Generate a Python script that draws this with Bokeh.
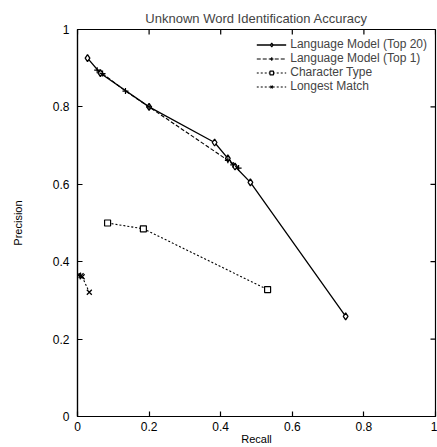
import math
from bokeh.plotting import figure
from bokeh.models import FixedTicker, Range1d, Legend, LegendItem
from bokeh.embed import file_html
from bokeh.resources import INLINE

# ---- data ----
top20_recall = [0.028, 0.064, 0.20, 0.383, 0.42, 0.44, 0.483, 0.749]
top20_precision = [0.926, 0.887, 0.80, 0.708, 0.667, 0.646, 0.605, 0.259]

top1_recall = [0.055, 0.07, 0.134, 0.20, 0.42, 0.435, 0.45]
top1_precision = [0.895, 0.886, 0.841, 0.80, 0.662, 0.65, 0.642]

char_recall = [0.084, 0.184, 0.531]
char_precision = [0.50, 0.485, 0.328]

longest_recall = [0.003, 0.010, 0.013, 0.033]
longest_precision = [0.365, 0.364, 0.361, 0.321]

tick_values = [0, 0.2, 0.4, 0.6, 0.8, 1]
tick_labels = ["0", "0.2", "0.4", "0.6", "0.8", "1"]

FONT = "Liberation Sans"

p = figure(width=437, height=447, output_backend="svg", toolbar_location=None,
           x_range=Range1d(0, 1), y_range=Range1d(0, 1),
           title="Unknown Word Identification Accuracy",
           min_border_left=77, min_border_right=2, min_border_top=29, min_border_bottom=28)

p.title.text_font = FONT
p.title.text_font_style = "normal"
p.title.text_font_size = "13px"
p.title.align = "center"
p.title.offset = 40
p.title.standoff = 7

p.grid.visible = False
p.outline_line_color = "black"
p.outline_line_width = 1.2
p.background_fill_color = "white"
p.border_fill_color = "white"

overrides = {v: l for v, l in zip(tick_values, tick_labels)}

for ax in [p.xaxis[0], p.yaxis[0]]:
    ax.ticker = FixedTicker(ticks=tick_values)
    ax.major_label_overrides = overrides
    ax.major_tick_in = 5
    ax.major_tick_out = 0
    ax.minor_tick_line_color = None
    ax.axis_line_color = "black"
    ax.axis_line_width = 1.2
    ax.major_tick_line_color = "black"
    ax.major_tick_line_width = 1.2
    ax.major_label_text_font = FONT
    ax.major_label_text_font_size = "12px"
    ax.major_label_text_color = "black"
    ax.axis_label_text_font = FONT
    ax.axis_label_text_font_style = "normal"
    ax.axis_label_text_font_size = "11px"
    ax.axis_label_text_color = "black"

p.xaxis.axis_label = "Recall"
p.yaxis.axis_label = "Precision"
p.xaxis.major_label_standoff = 5
p.xaxis.axis_label_standoff = -1
p.yaxis.major_label_standoff = 8
p.yaxis.axis_label_standoff = 26
p.yaxis.major_label_orientation = "horizontal"

# mirrored inward ticks on the top and right edges
p.ray(x=tick_values, y=[1] * len(tick_values), length=5, length_units="screen",
      angle=-math.pi / 2, line_color="black", line_width=1.2)
p.ray(x=[1] * len(tick_values), y=tick_values, length=5, length_units="screen",
      angle=math.pi, line_color="black", line_width=1.2)

l1 = p.line(top20_recall, top20_precision, line_color="black", line_width=1.3)
m1 = p.scatter(top20_recall, top20_precision, marker="diamond", size=7,
               line_color="black", fill_color="white", line_width=1.3)

l2 = p.line(top1_recall, top1_precision, line_color="black", line_width=1.1, line_dash="4 2")
m2 = p.scatter(top1_recall, top1_precision, marker="cross", size=6,
               line_color="black", line_width=1.2)

l3 = p.line(char_recall, char_precision, line_color="black", line_width=1.1, line_dash="2 2")
m3 = p.scatter(char_recall, char_precision, marker="square", size=6,
               line_color="black", fill_color="white", line_width=1.2)

l4 = p.line(longest_recall, longest_precision, line_color="black", line_width=1.1, line_dash="2 2")
m4 = p.scatter(longest_recall, longest_precision, marker="x", size=7,
               line_color="black", line_width=1.3)

legend = Legend(items=[
    LegendItem(label="Language Model (Top 20)", renderers=[l1, m1]),
    LegendItem(label="Language Model (Top 1)", renderers=[l2, m2]),
    LegendItem(label="Character Type", renderers=[l3, m3]),
    LegendItem(label="Longest Match", renderers=[l4, m4]),
], location="top_right")
legend.border_line_color = None
legend.background_fill_alpha = 0
legend.label_text_font = FONT
legend.label_text_font_size = "12px"
legend.label_text_line_height = 0.9
legend.label_height = 9
legend.glyph_height = 9
legend.glyph_width = 30
legend.spacing = 0
legend.padding = 4
legend.margin = 8
legend.label_standoff = 4
p.add_layout(legend)

open("out.html", "w").write(file_html(p, INLINE))
